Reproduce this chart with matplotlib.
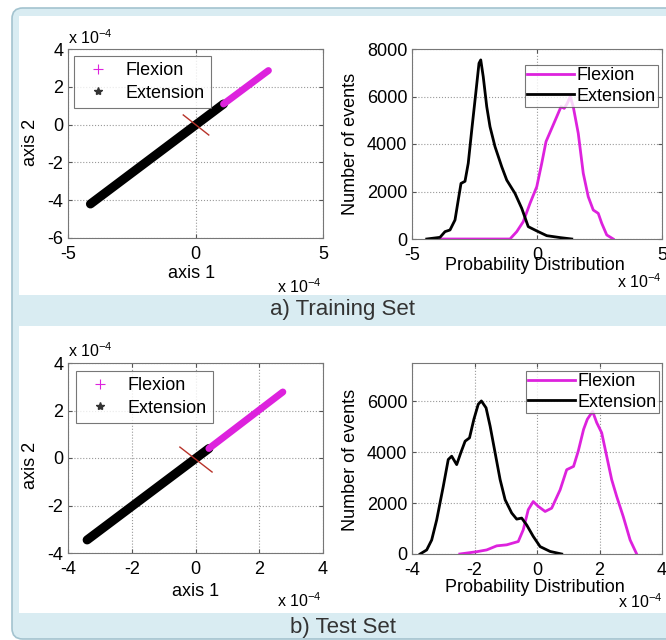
import matplotlib
matplotlib.use('Agg')
import matplotlib.pyplot as plt
from matplotlib.lines import Line2D
from matplotlib.patches import FancyBboxPatch, Rectangle

plt.rcParams['font.family'] = ['Liberation Sans', 'DejaVu Sans']
plt.rcParams['mathtext.fontset'] = 'custom'
plt.rcParams['mathtext.rm'] = 'Liberation Sans'
plt.rcParams['axes.unicode_minus'] = False

# all abscissae / scatter coordinates are in units of 1e-4
# --- a) training set -------------------------------------------------------
train_ext_line_x = [-4.12, 1.10]
train_ext_line_y = [-4.20, 1.09]
train_flex_line_x = [1.10, 2.86]
train_flex_line_y = [1.09, 2.86]
train_boundary_x = [-0.48, 0.52]
train_boundary_y = [0.51, -0.55]

train_ext_x = [-4.41, -3.88, -3.68, -3.48, -3.28, -3.15, -3.04, -2.88, -2.75,
               -2.61, -2.45, -2.32, -2.25, -2.15, -2.01, -1.88, -1.68, -1.41,
               -1.21, -0.88, -0.61, -0.35, -0.01, 0.39, 0.92, 1.39]
train_ext_y = [0, 70, 310, 380, 800, 1640, 2340, 2430, 3190, 4590, 6130, 7400,
               7540, 6830, 5570, 4730, 3890, 3040, 2480, 1920, 1290, 520, 340,
               140, 60, 0]
train_flex_x = [-3.88, -1.08, -0.81, -0.55, -0.28, -0.01, 0.19, 0.36, 0.59,
                0.79, 0.96, 1.09, 1.21, 1.33, 1.45, 1.65, 1.85, 2.05, 2.25,
                2.45, 2.59, 2.79, 3.05]
train_flex_y = [0, 0, 310, 730, 1500, 2200, 3190, 4100, 4660, 5150, 5570, 5500,
                5710, 6000, 5570, 4450, 2770, 1780, 1220, 1080, 660, 170, 0]

# --- b) test set -----------------------------------------------------------
test_ext_line_x = [-3.40, 0.42]
test_ext_line_y = [-3.45, 0.40]
test_flex_line_x = [0.42, 2.74]
test_flex_line_y = [0.40, 2.78]
test_boundary_x = [-0.49, 0.52]
test_boundary_y = [0.46, -0.59]

test_ext_x = [-3.74, -3.53, -3.37, -3.21, -3.00, -2.84, -2.73, -2.57, -2.44,
              -2.30, -2.16, -2.02, -1.88, -1.78, -1.63, -1.50, -1.34, -1.18,
              -1.02, -0.81, -0.65, -0.49, -0.33, -0.12, 0.10, 0.42, 0.79]
test_ext_y = [0, 160, 550, 1340, 2650, 3710, 3840, 3510, 3970, 4430, 4560,
              5290, 5880, 6010, 5740, 5020, 3970, 2920, 2130, 1610, 1370, 1410,
              1140, 690, 290, 100, 0]
test_flex_x = [-2.47, -1.93, -1.61, -1.29, -0.97, -0.60, -0.44, -0.28, -0.12,
               0.04, 0.26, 0.47, 0.74, 0.95, 1.17, 1.32, 1.49, 1.61, 1.78, 1.91,
               2.07, 2.23, 2.39, 2.55, 2.76, 2.98, 3.19]
test_flex_y = [0, 90, 160, 320, 360, 490, 950, 1740, 2060, 1870, 1670, 1800,
               2520, 3310, 3440, 4040, 4890, 5290, 5600, 5160, 4760, 3840, 2920,
               2260, 1470, 550, 0]

labels = ['Flexion', 'Extension']
captions = ['a) Training Set', 'b) Test Set']

MAGENTA = '#dd22dd'
FS = 13
W, H = 666, 640


def frac(x0, y0, x1, y1):
    """pixel box (top-left origin) -> figure fraction rect"""
    return (x0 / W, 1 - y1 / H, (x1 - x0) / W, (y1 - y0) / H)


def style_axes(ax):
    ax.grid(True, linestyle=':', color='#999999', linewidth=0.8)
    ax.tick_params(direction='in', length=3, top=True, right=True,
                   labelsize=FS, colors='#555555', labelcolor='black')
    ax.tick_params(axis='x', pad=5.5)
    ax.tick_params(axis='y', pad=3.5)
    for s in ax.spines.values():
        s.set_color('#777777')
        s.set_linewidth(0.8)


def set_labels(ax, xlabel, xpos, ylabel, ypos):
    ax.set_xlabel(xlabel, fontsize=FS, va='center')
    ax.xaxis.set_label_coords(*xpos)
    ax.set_ylabel(ylabel, fontsize=FS, va='center')
    ax.yaxis.set_label_coords(*ypos)


def exponent(ax, x, y, ha):
    ax.text(x, y, r'x 10$^{-4}$', transform=ax.transAxes, ha=ha,
            va='baseline', fontsize=11.5)


def style_legend(leg):
    leg.get_frame().set_edgecolor('#555555')
    leg.get_frame().set_linewidth(0.8)


def plot_scatter(ax, ext_x, ext_y, flex_x, flex_y, bnd_x, bnd_y):
    ax.plot(ext_x, ext_y, color='black', lw=6.5, solid_capstyle='round')
    ax.plot(flex_x, flex_y, color=MAGENTA, lw=5.0, solid_capstyle='round')
    ax.plot(bnd_x, bnd_y, color='#b8332a', lw=1.0)
    handles = [
        Line2D([], [], color=MAGENTA, marker='+', ls='none', markersize=7,
               markeredgewidth=0.8),
        Line2D([], [], color='#333333', marker='*', ls='none', markersize=6),
    ]
    return handles


def plot_hist(ax, ext_x, ext_y, flex_x, flex_y):
    ax.plot(flex_x, flex_y, color=MAGENTA, lw=2.0, label=labels[0])
    ax.plot(ext_x, ext_y, color='black', lw=2.0, label=labels[1])


fig = plt.figure(figsize=(W / 100, H / 100), dpi=100)
fig.patch.set_facecolor('white')

outer = FancyBboxPatch((12 / W, 1 - 639 / H), 700 / W, 631 / H,
                       boxstyle='round,pad=0,rounding_size=0.016',
                       mutation_aspect=W / H, transform=fig.transFigure,
                       facecolor='#d9ecf2', edgecolor='#a3c3cf', lw=1.2,
                       zorder=-10)
fig.patches.append(outer)
for box in [(19, 16, 700, 295), (19, 326, 700, 613)]:
    r = frac(*box)
    fig.patches.append(Rectangle(r[:2], r[2], r[3], transform=fig.transFigure,
                                 facecolor='white', edgecolor='none',
                                 zorder=-9))
fig.text(343 / W, 1 - 310 / H, captions[0], ha='center', va='center',
         fontsize=16, color='#333333')
fig.text(343 / W, 1 - 627 / H, captions[1], ha='center', va='center',
         fontsize=16, color='#333333')

# ---------------- a) training set: scatter ----------------
ax1 = fig.add_axes(frac(68, 49, 323, 238))
h = plot_scatter(ax1, train_ext_line_x, train_ext_line_y, train_flex_line_x,
                 train_flex_line_y, train_boundary_x, train_boundary_y)
ax1.set_xlim(-5, 5)
ax1.set_ylim(-6, 4)
ax1.set_xticks([-5, 0, 5])
ax1.set_yticks([-6, -4, -2, 0, 2, 4])
style_axes(ax1)
set_labels(ax1, 'axis 1', (0.486, -0.19), 'axis 2', (-0.149, 0.503))
exponent(ax1, 0.0, 1.028, 'left')
exponent(ax1, 0.996, -0.291, 'right')
style_legend(ax1.legend(h, labels, loc='upper left',
                        bbox_to_anchor=(0.024, 0.963), borderaxespad=0,
                        fontsize=FS, frameon=True, fancybox=False,
                        handlelength=2.0, handletextpad=0.5, borderpad=0.35,
                        labelspacing=0.3))

# ---------------- a) training set: distributions ----------------
ax2 = fig.add_axes(frac(412, 49, 662, 239))
plot_hist(ax2, train_ext_x, train_ext_y, train_flex_x, train_flex_y)
ax2.set_xlim(-5, 5)
ax2.set_ylim(0, 8000)
ax2.set_xticks([-5, 0, 5])
ax2.set_yticks([0, 2000, 4000, 6000, 8000])
style_axes(ax2)
set_labels(ax2, 'Probability Distribution', (0.49, -0.137),
           'Number of events', (-0.248, 0.5))
exponent(ax2, 0.82, -0.258, 'left')
style_legend(ax2.legend(loc='upper right', bbox_to_anchor=(0.984, 0.916),
                        borderaxespad=0, fontsize=FS, frameon=True,
                        fancybox=False, handlelength=2.6, handletextpad=0.15,
                        borderpad=0.12, labelspacing=0.2))

# ---------------- b) test set: scatter ----------------
ax3 = fig.add_axes(frac(68, 363, 323, 553))
h = plot_scatter(ax3, test_ext_line_x, test_ext_line_y, test_flex_line_x,
                 test_flex_line_y, test_boundary_x, test_boundary_y)
ax3.set_xlim(-4, 4)
ax3.set_ylim(-4, 4)
ax3.set_xticks([-4, -2, 0, 2, 4])
ax3.set_yticks([-4, -2, 0, 2, 4])
style_axes(ax3)
set_labels(ax3, 'axis 1', (0.5, -0.205), 'axis 2', (-0.149, 0.463))
exponent(ax3, 0.0, 1.033, 'left')
exponent(ax3, 0.996, -0.284, 'right')
style_legend(ax3.legend(h, labels, loc='upper left',
                        bbox_to_anchor=(0.031, 0.958), borderaxespad=0,
                        fontsize=FS, frameon=True, fancybox=False,
                        handlelength=2.0, handletextpad=0.5, borderpad=0.35,
                        labelspacing=0.3))

# ---------------- b) test set: distributions ----------------
ax4 = fig.add_axes(frac(412, 363, 662, 554))
plot_hist(ax4, test_ext_x, test_ext_y, test_flex_x, test_flex_y)
ax4.set_xlim(-4, 4)
ax4.set_ylim(0, 7500)
ax4.set_xticks([-4, -2, 0, 2, 4])
ax4.set_yticks([0, 2000, 4000, 6000])
style_axes(ax4)
set_labels(ax4, 'Probability Distribution', (0.49, -0.173),
           'Number of events', (-0.248, 0.49))
exponent(ax4, 0.824, -0.283, 'left')
style_legend(ax4.legend(loc='upper right', bbox_to_anchor=(0.988, 0.958),
                        borderaxespad=0, fontsize=FS, frameon=True,
                        fancybox=False, handlelength=2.6, handletextpad=0.15,
                        borderpad=0.12, labelspacing=0.2))

fig.savefig('out.png', dpi=100)
